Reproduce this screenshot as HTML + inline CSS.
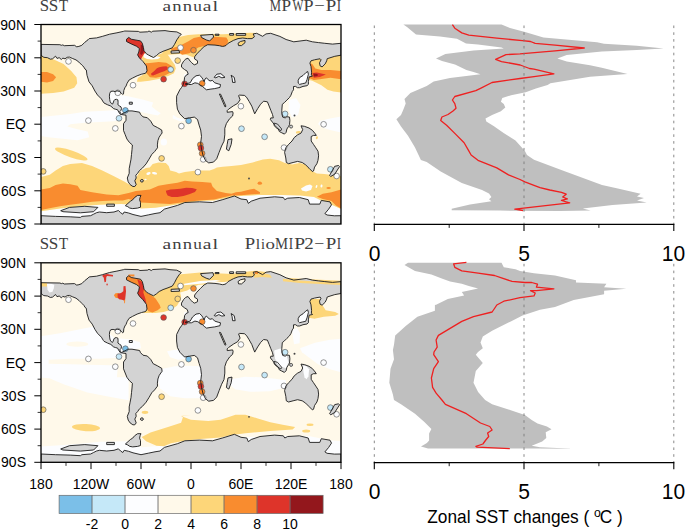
<!DOCTYPE html>
<html><head><meta charset="utf-8"><style>
html,body{margin:0;padding:0;background:#fff;}
svg{display:block;}
.lab{font-family:"Liberation Sans",sans-serif;font-size:14px;fill:#000;}
.big{font-family:"Liberation Sans",sans-serif;font-size:21px;fill:#000;}
.ttl{font-family:"Liberation Serif",serif;font-size:16px;fill:#404040;}
.xl{font-family:"Liberation Sans",sans-serif;font-size:17.6px;fill:#000;}
</style></head><body>
<svg width="685" height="530" viewBox="0 0 685 530">
<defs>
<clipPath id="clip0"><rect x="41" y="24.5" width="300" height="199.5"/></clipPath>
<clipPath id="clip1"><rect x="41" y="262.8" width="300" height="199.5"/></clipPath>
</defs>
<rect width="685" height="530" fill="#fff"/>
<g clip-path="url(#clip0)">
<rect x="41" y="24.5" width="300" height="199.5" fill="#FFF9EA"/>
<polygon points="41,116.9 55.6,115.4 70.2,114 84.8,111.8 99.4,111.1 114,110.3 122.8,109.6 122.8,119.8 114,121.3 99.4,122 84.8,122.7 70.2,124.2 67.3,126.4 77.5,129.3 87.7,131.5 89.2,137.3 77.5,140.3 62.9,138.8 48.3,137.3 41,135.9" fill="#FCFDFF"/>
<polygon points="341,116.5 330,118.5 320,121 318,124 322,127.5 330,130 341,132.5" fill="#FCFDFF"/>
<polygon points="108,89 119,89 120,95.1 129.1,96.6 142.6,99.6 153.2,102.6 151.7,106.4 156.2,110.2 160.8,113.2 157.7,115.5 150.2,114 139.6,111.7 129.1,111.7 120,111.7 108,106" fill="#FCFDFF"/>
<polygon points="172.8,114.7 177.4,117.7 186.4,120 180.4,121.5 172.8,118.5" fill="#FCFDFF"/>
<ellipse cx="163.8" cy="141.9" rx="3.2" ry="3.5" transform="rotate(0 163.8 141.9)" fill="#FCFDFF"/>
<polygon points="289,100 296,98 300.5,105 298,115 292,117.5 288.5,110" fill="#FCFDFF"/>
<polygon points="41,211.3 60,208.6 80,206.2 99.4,204.7 121.3,204 128,204.5 141,208.4 155.6,207.7 170.2,205.5 184.8,203.3 199.4,201.1 214,200.4 228.6,197.4 241,196 260,195 280,195 300,195.5 314,197 320,200 330,204 341,209 341,224 41,224" fill="#FCFDFF"/>
<polygon points="49.3,61.3 53.1,59.8 59.1,60.6 60.6,62.8 56.1,64.3 51.6,63.6" fill="#FCFDFF"/>
<polygon points="184,74 200,73 224,72 236,73 236,84 222,91 200,91 185,86" fill="#FCFDFF"/>
<polygon points="297,70 309,70 309,85 297,85" fill="#FCFDFF"/>
<polygon points="41,55 47,56 50,58 56.1,60.5 63.6,64 71.2,71.1 76.5,77.2 77.2,83.2 74.2,87.7 63.6,91.5 53.1,93 41,93.8" fill="#FDD679"/>
<polygon points="309,58 315.3,60 327.4,57 341,54 341,92.5 333.4,91.5 327.4,89.7 321.4,85.2 312.3,80.7 309,80" fill="#FDD679"/>
<ellipse cx="71.3" cy="154" rx="17.2" ry="3.4" transform="rotate(19 71.3 154)" fill="#FDD679"/>
<polygon points="41,177 49.8,174.8 55.6,170.4 62.9,166.1 70.2,163.9 81.9,163.1 92.1,166.1 102.3,170.4 114,176.3 124.2,181.4 131.5,185.8 133,186 136,178 140,171 146,168 149.8,167.5 152.7,163.9 158.5,162.4 165.8,163.1 168.7,166.1 170.2,170.4 176,171.9 179,173.4 184.8,171.9 190.6,171.2 196.5,170.4 203.8,170.4 209.6,170.4 214,169 216.9,167.5 222.8,166.8 231.5,166.1 241,165 252.7,162.4 262.9,159.5 270.2,158.8 279,160.2 284.8,163.1 292.1,164.6 299.4,163.1 305.2,164.6 311.1,170.4 316.9,173.4 324.2,174.1 330,174.8 341,176.3 341,209 330,204 320,200 314,197 300,195.5 280,195 260,195 241,196 228.6,197.4 214,200.4 199.4,201.1 184.8,203.3 170.2,205.5 155.6,207.7 141,208.4 128,204.5 121.3,204 99.4,204.7 80,206.2 60,208.6 41,211.3" fill="#FDD679"/>
<polygon points="140,53 146,51.5 152,54.5 154.3,57.8 160,54 166,52 172,60.9 174.8,64.7 175.8,68.5 173.9,73.2 168.2,76.1 158.7,78.9 149.2,80.8 140.7,81.7 136.9,81.7 137.8,78 142.6,75.1 145.4,73.2 146.4,68.5 143,62" fill="#FDD679"/>
<polygon points="143.7,53.7 146.7,52.9 150.5,56.7 154.3,57.5 157,56.2 160.5,57.2 158,59 152,59.6 147,59 143.5,57.2" fill="#FCFDFF"/>
<polygon points="161.7,53.2 164.6,50.3 170,47 175,42 179.2,37.1 188,35 198.2,34.2 208.4,34.2 223,34.2 237.6,33.5 250,32.8 256,33 256,40 240,40 230,45 215,46 205,46 197,55 193.8,57.6 186.5,54.7 179.2,53.9 167.5,54.7" fill="#FDD679"/>
<ellipse cx="298.3" cy="132.3" rx="2.5" ry="1.2" transform="rotate(-10 298.3 132.3)" fill="#FDD679"/>
<ellipse cx="316.9" cy="137.7" rx="1" ry="1.6" transform="rotate(20 316.9 137.7)" fill="#FDD679"/>
<polygon points="41,71.9 47,71.9 53.1,74.2 56.1,77.2 53.1,81 47,82.5 41,81.7" fill="#F98C2F"/>
<polygon points="309,63 312.3,64.1 315.3,68.6 321.4,70.1 330.4,70.1 341,70.9 341,79.2 330.4,77.7 319.8,79.2 313.8,79.9 309,78" fill="#F98C2F"/>
<polygon points="143.7,63.5 150,63 158.7,62 166.3,62.8 171,65.6 173,68.5 171,72.3 164,76 156,77.7 150,77.3 146.4,73 145.4,67.5" fill="#F98C2F"/>
<polygon points="170.4,48.8 179.2,45.9 188,41.5 193.8,37.9 201.1,36.4 213.5,36.8 226.4,37.4 228.1,40.4 227.5,43.9 225,47 212.8,47 205.5,45.5 198.2,47.5 193.8,50.5 189.4,53.2 182.1,54.7 179.2,52.5 173.4,51.7" fill="#F98C2F"/>
<polygon points="238,43.3 240.4,41.5 245,40.4 245,42.7 241.5,45.6 238.6,45.6" fill="#FDD679"/>
<polygon points="41,189.4 49.8,188 55.6,185 62.9,183.6 70.2,184.3 77.5,185.8 80.4,190.1 92.1,192.3 106.7,194.5 118.4,195.3 128.6,193.1 135.9,190.9 141,190.5 149.8,189.4 158.5,185.8 167.3,184.3 177.5,182.8 184.8,180.7 192.1,181.4 202.3,182.1 211.1,182.8 212.5,186.5 216.9,190.9 225.7,193.1 231.5,193.8 235.9,192.3 241,191.8 249.8,189.4 254.1,188.7 260,192.3 260,193.8 249.8,194.5 241,195.3 231.5,195.5 222.8,197.5 214,199.5 199.4,200.5 184.8,202 170.2,204 160,203.5 150,203 141,202.5 128.6,199 122.8,200.4 114,200.4 102.3,201.1 92.1,201.8 81.9,203.3 70.2,204.7 60,206.2 48.3,208.4 41,209.9" fill="#F98C2F"/>
<polygon points="316.9,196.7 322.8,193.8 331.5,192.3 341,189.4 341,208.4 335.9,205.5 331.5,201.1 322.8,198.9" fill="#F98C2F"/>
<ellipse cx="259.8" cy="183.2" rx="2.2" ry="1.6" transform="rotate(0 259.8 183.2)" fill="#F98C2F"/>
<ellipse cx="148.5" cy="173.5" rx="2.2" ry="1.3" transform="rotate(-20 148.5 173.5)" fill="#FCFDFF"/>
<ellipse cx="154.5" cy="173.2" rx="2.6" ry="1.2" transform="rotate(10 154.5 173.2)" fill="#FCFDFF"/>
<ellipse cx="145.5" cy="179.5" rx="1.2" ry="0.8" transform="rotate(0 145.5 179.5)" fill="#FCFDFF"/>
<polygon points="301,188.5 306,185.5 310,184.5 312.5,186 311,190 306,191.5 302,190.5" fill="#FCFDFF"/>
<ellipse cx="316.5" cy="186.5" rx="0.8" ry="1.5" transform="rotate(20 316.5 186.5)" fill="#FCFDFF"/>
<ellipse cx="321.5" cy="186" rx="1" ry="1.6" transform="rotate(10 321.5 186)" fill="#FCFDFF"/>
<ellipse cx="328.6" cy="188" rx="2.2" ry="1" transform="rotate(0 328.6 188)" fill="#F98C2F"/>
<polygon points="312.3,73.1 316.8,72.4 325.9,74.6 319.8,76.9 313.8,77.7" fill="#DE342A"/>
<polygon points="151.1,73.4 154,71.2 156.9,68.2 159.1,67.2 162.7,66.4 166.4,66.2 167.8,67.5 167.1,69.7 164.2,71.2 160.5,72.6 156.9,74.1 153.2,75.5 151.4,75.2" fill="#DE342A"/>
<polygon points="125,36 141,36 146,45 146.5,51 144,54 141.5,58 140.5,61.5 139,60 138,56 135,50 125,42" fill="#DE342A"/>
<polygon points="137.5,54 140.5,54.5 141.5,58 140.5,61 139,59.5" fill="#DE342A"/>
<polygon points="165.8,190.8 170.5,189.6 174.6,189.3 180.4,188.7 186.3,187.8 192.1,188.1 196.8,189.3 195,191.9 189.2,194.3 183.4,196 177.5,196.9 171.7,196.9 167.6,195.4 166.4,193.1" fill="#DE342A"/>
<polygon points="313.5,73.6 317.6,73.9 317.6,76.1 313.8,76.4" fill="#93171C"/>
<polygon points="140.8,44.5 143,45.5 144.3,49 143.5,52.5 141.5,55 140.2,54 140.5,50" fill="#93171C"/>
<path d="M41 44.4 L59.9 44.7 L61.4 45.3 L62.8 44.9 L64.3 45.7 L74.5 45.3 L76.7 46.8 L78.9 46.4 L81.8 45.3 L84.7 42.4 L88 39.8 L89.2 38.6 L96.5 37.9 L102.3 36.4 L109.6 34.2 L116.9 32.8 L123.3 31.4 L124.8 31 L138.4 31.4 L139.9 32.2 L147.5 31.8 L149 31 L151.3 32.2 L152.8 31.2 L165 30.6 L170 31.4 L176.8 31.9 L181.3 34.2 L179.1 36.5 L176.8 39.9 L174.5 44.4 L172.3 47.8 L168 49.5 L163 51.3 L159.2 53.2 L156.5 55.5 L153.5 57.5 L151 56.3 L148.5 55 L146.4 53.8 L144.6 51.5 L144 50.9 L143.4 47.4 L142.3 43.3 L140.5 40.9 L131.2 39.2 L128.8 37.4 L126.5 39.2 L126.5 41.5 L131.2 43.9 L136.4 46.2 L139.4 48.5 L138.8 52 L137.6 54.9 L139.4 57.9 L142.9 61.4 L146.4 66 L147 70.7 L146.2 72.6 L145 73.4 L141.6 74.2 L137.1 75.8 L132.5 78.1 L129.1 80 L127.1 83.3 L126.1 86 L124.9 87.7 L123.8 90.5 L123.5 93.9 L122.7 94.5 L121 92.8 L119.3 91.4 L117 90.8 L115.3 91.7 L113.1 91.1 L110.8 91.4 L109.7 93.4 L109.4 96.2 L109.7 99.6 L110.2 101.8 L111.4 103.5 L112.5 104.1 L113.1 103 L113.9 100.7 L114.8 99.6 L116.5 99.3 L117.9 99.9 L118.1 102.4 L117.9 104.7 L119.3 105.8 L121 106.9 L121.5 108.6 L121 110.3 L119.8 111.5 L120.4 113.2 L121.5 114.1 L124 113 L126 112 L127.7 110.9 L132 110.9 L139.6 112.2 L140.5 114.3 L143 116.9 L147.3 117.7 L150.7 121.1 L153.2 125.4 L157.4 127.5 L161.7 130 L162.1 133 L160.8 134.7 L159.1 137.3 L157.9 140.7 L157.4 144.9 L157.5 147.8 L154.6 151.6 L151.8 154.4 L149 159.2 L146.1 163.9 L142.4 168.1 L139.5 170.5 L137.6 173.3 L135.8 175.2 L136.2 178 L134.8 180.8 L136.2 184.6 L134.8 186.5 L132.9 186.5 L130.1 184.6 L128.2 181.8 L127.3 178 L129.2 173.3 L129.2 168.6 L130.1 163.9 L131 159.2 L131.5 154.4 L132 149.7 L132.4 145 L129.4 142.4 L126.9 139 L125.2 134.7 L123.5 130.5 L123.5 123.7 L126 120.3 L126 115.2 L121.8 114.6 L120.4 114.5 L118.7 112 L117.6 109.8 L115.3 109.2 L113.6 108.6 L110.8 106.1 L107.4 104.7 L104 103 L103.4 102.2 L101.4 98.9 L97.5 95 L94.9 91 L92.2 85.8 L89 81.8 L87 75.3 L86.3 70 L85 69.1 L84 67.2 L81.8 65 L78.9 62.1 L76 59.9 L72.3 58.4 L69.4 57.1 L67.2 57.3 L65 58.8 L62.8 58.1 L61.4 59.5 L59.2 57.7 L57 58.4 L55.5 56.2 L52.6 58.8 L50.4 59.2 L47.5 57.7 L43.8 57.3 L41.3 55.5 L41 55.5ZM341 43.3 L332.5 44.1 L324.8 43.3 L318.6 42.6 L312.4 41.8 L306.2 40.2 L300 41 L293.8 41.8 L286.1 39.5 L279.9 36.4 L276 35.1 L270.7 33.3 L266 33.9 L262.6 36.3 L256.7 33.3 L253.2 33.9 L254.4 36.8 L252 38.6 L247.4 38.6 L242.7 38 L238 38.6 L233.4 40.4 L228.1 43.3 L226 45.5 L224 46.2 L222.3 46.4 L219.4 45.7 L215 45.1 L207.7 44.7 L204.1 46.6 L200.4 50.2 L196.8 53.9 L194.6 56.8 L194.6 59 L197.5 60.8 L197.5 63.4 L194.6 64.8 L193.1 64.1 L191.7 62.6 L190.2 61.2 L188 58.2 L185.8 59 L183.6 61.2 L181.5 64.8 L181.5 67.1 L184.6 69.6 L187.2 71.2 L188.2 74.2 L186.1 75.2 L184.6 77.3 L184.1 81.4 L183.4 84.5 L181.5 87.5 L179.8 89.8 L176.6 96.2 L176.6 102.7 L177.4 109.1 L179.8 113.9 L184.6 118.7 L189.4 117.9 L194.3 117.1 L197.5 119.5 L199.1 125.1 L200.7 130 L201.5 136.4 L200.7 142.8 L201.5 149.2 L203.1 155.6 L205.5 160.5 L208.7 162.9 L213.5 162.1 L216.7 158.8 L219.1 152.4 L221.6 146 L224 141.2 L224.8 134.8 L224.8 128.3 L226.4 123.5 L229.6 118.7 L232.6 116 L233.1 113.1 L232.6 111.6 L227.2 112.3 L227.2 110.6 L228.7 109.1 L233.6 105.7 L237.5 103.5 L240.1 99.8 L238.6 95.6 L239.6 95.1 L244.4 95.4 L246.5 97.2 L249.1 101.4 L251.8 106.2 L254.7 113.8 L257.7 108.6 L260.6 104.2 L263.6 101.2 L266 101.6 L267.4 101.8 L269.1 106 L270.8 110.3 L272.5 114.5 L273.3 117.9 L270.8 117.9 L270.4 119.6 L272.5 122.2 L275 125.6 L278.4 129 L279.3 131.5 L281.8 132.8 L284.4 134.1 L286.1 132.4 L286.9 129 L288.6 126.4 L289.5 124.7 L289.9 120.5 L289.5 117.1 L286.9 116.7 L285.2 117.9 L282.7 117.1 L281.8 113.7 L281.8 110.3 L282.3 104.3 L284.4 102.6 L286.9 100.1 L289.5 97.5 L290.9 95.3 L292.3 91.5 L293.5 89.8 L293.5 86.5 L295.5 86.4 L297.5 87.7 L299.6 87.7 L303 86.4 L307 85.7 L308.4 84.4 L308.4 81.6 L309.1 76.9 L312.5 76.2 L311.4 74.9 L311.6 72.2 L311 66.5 L309.9 63.1 L311 60.8 L314.5 59.8 L317 59.3 L320.1 58.8 L321.1 59.8 L319.5 62.8 L320.1 65.9 L322.1 66.9 L325.2 63.9 L326.7 60.8 L327.2 58.7 L330 57.8 L334.8 56.3 L341 55.2ZM185.5 83.6 L187.8 83.4 L190.2 82.8 L192.5 78.7 L196 75.8 L199.5 75.2 L201.9 77.5 L203 79.5 L204.2 81.6 L205 79 L206.5 77.8 L207.7 79.3 L210 81 L212.4 80.4 L214.7 82.8 L218.2 83.9 L220.5 84.5 L220 87.4 L214.7 88.6 L210 89.2 L206.5 89.8 L204.2 88 L202.4 86.3 L200.1 85.1 L197.8 83.4 L194.9 82.8 L191.4 84.5 L188.4 84.5 L185.5 84.4ZM214.2 77.3 L216.8 74.2 L220.9 73.7 L225 77.3 L221.9 77.8 L218.8 76.3 L215.8 77.8ZM231.1 75.2 L234.2 77.3 L235.2 82.4 L232.6 82.4 L232.1 78.3ZM307.7 71.5 L308.4 74.2 L307 79.6 L305.7 83 L302.3 83.7 L299.6 84.4 L298.2 83 L298.2 80.3 L299.6 77.6 L303 75.5 L305.7 72.8ZM238 43.3 L240.4 41.5 L245 40.4 L245 42.7 L241.5 45.6 L238.6 45.6ZM219.4 94 L220.6 94.2 L226 106.3 L225 106.9ZM171.1 51 L179.1 50.6 L179.6 52.9 L171.1 53.2ZM200.6 35.3 L213 34.4 L213.6 37 L209.6 41 L206.2 39.9 L201.7 37.6ZM236.2 33.5 L245.7 33.5 L245.7 35.3 L236.2 35.3ZM229.6 33.5 L233.6 33.5 L233.6 35.2 L229.6 35.2ZM215.2 34.2 L219 34.2 L219 35.3 L215.2 35.3ZM228 139.6 L232 138.8 L231.2 144.4 L228.8 150.8 L226.4 149.2 L227.2 144.4ZM301 125.8 L304.4 126.3 L309 128 L312.4 130.3 L315.2 133.7 L316.3 135.4 L313.5 135.4 L311.2 136.5 L311.2 141 L313.5 144.4 L315.8 147.8 L318 151.2 L318.6 155.8 L318 160.3 L316.9 163.7 L314.6 167.1 L313.5 171 L312.4 171.6 L309 168.2 L305.6 164.8 L302.2 162.5 L297.6 161.4 L293.1 162.5 L288.6 163.7 L286.3 162.5 L285.8 158 L284.6 152.4 L285.8 147.8 L288.6 144.4 L292 141 L294.2 137.6 L297.6 134.8 L301 133.1 L302.7 129.7ZM329.6 175.4 L334.7 166.3 L338.6 165.5 L339.6 166.5 L334.7 174.2 L330.7 176.5ZM129.3 102.2 L132.3 102.2 L132.3 104.2 L129.3 104.2ZM143.4 180.8 L143 181.7 L141.9 182.1 L140.8 181.7 L140.4 180.8 L140.8 179.9 L141.9 179.5 L143 179.9ZM41 215.7 L55.6 216.4 L70.2 216.8 L80.4 217.4 L81.9 216.4 L90.6 215.7 L93.6 214.2 L96.5 212.7 L99.4 212 L106.7 212.7 L114 212 L118.4 210.5 L120.6 212.7 L122.8 214.2 L124.2 212 L128.6 213 L133 214.5 L141 216.4 L148.3 214.9 L155 213.5 L160 212.7 L164.4 209.1 L170 207.5 L177.5 205.4 L184.8 202.5 L199.4 201.8 L212.5 202.5 L222.8 199.6 L234.4 196 L241 199 L246.8 199.7 L248.3 203.4 L251.2 201.2 L260 198.2 L274.6 196.8 L283.3 197.5 L284.8 199.7 L287.7 198.2 L299.4 197.5 L308.2 199.7 L309.6 204.1 L319.8 204.1 L321.3 200.4 L330 201.9 L331.5 204.8 L328.6 209.2 L324.9 213.6 L327.1 215 L334.4 215.8 L341 215.7 L341 224.5 L41 224.5ZM125.4 205.7 L130.3 201.3 L132.7 199.8 L134.7 197.4 L137.6 195.4 L141 195.4 L140.1 197.4 L139.6 199.8 L140.5 202.3 L140.5 207.2 L137.6 208.1 L132.7 208.6 L129.8 208.1 L127.8 206.7ZM60.7 210.7 L69.5 207.4 L84.8 206.3 L97.9 207.4 L93.6 211.7 L80.4 212.8 L62.9 211.7ZM106.7 204.1 L114.4 204.1 L114.4 206.3 L106.7 206.3Z" transform="translate(0 0)" fill="#D3D3D3" fill-rule="evenodd"/>
<polygon points="141.3,180.4 142.5,180.4 142.5,181.2 141.3,181.2" fill="#E6E6E6"/>
<polygon points="130,102.8 131.6,102.8 131.6,103.6 130,103.6" fill="#E6E6E6"/>
<polygon points="172,51.6 178.6,51.3 178.8,52.4 172,52.6" fill="#E6E6E6"/>
<circle cx="68.5" cy="61.4" r="2.85" fill="#FCFDFF" stroke="#5c5c5c" stroke-width="0.65"/>
<circle cx="133" cy="85.2" r="2.85" fill="#FCFDFF" stroke="#5c5c5c" stroke-width="0.65"/>
<circle cx="117.8" cy="92.8" r="2.85" fill="#FCFDFF" stroke="#5c5c5c" stroke-width="0.65"/>
<circle cx="125.4" cy="110.4" r="2.85" fill="#7BBFE8" stroke="#5c5c5c" stroke-width="0.65"/>
<circle cx="119" cy="118.3" r="2.85" fill="#C5E8F8" stroke="#5c5c5c" stroke-width="0.65"/>
<circle cx="88.4" cy="120.6" r="2.85" fill="#FCFDFF" stroke="#5c5c5c" stroke-width="0.65"/>
<circle cx="115.3" cy="128.4" r="2.85" fill="#FCFDFF" stroke="#5c5c5c" stroke-width="0.65"/>
<circle cx="180.5" cy="47.7" r="2.85" fill="#FCFDFF" stroke="#5c5c5c" stroke-width="0.65"/>
<circle cx="193.5" cy="50.2" r="2.85" fill="#F98C2F" stroke="#5c5c5c" stroke-width="0.65"/>
<circle cx="177.7" cy="60.6" r="2.85" fill="#FDD679" stroke="#5c5c5c" stroke-width="0.65"/>
<circle cx="170.7" cy="69.5" r="2.85" fill="#C5E8F8" stroke="#5c5c5c" stroke-width="0.65"/>
<circle cx="163.6" cy="79.2" r="2.85" fill="#DE342A" stroke="#5c5c5c" stroke-width="0.65"/>
<circle cx="184.6" cy="83.8" r="2.85" fill="#DE342A" stroke="#5c5c5c" stroke-width="0.65"/>
<circle cx="202.2" cy="83.4" r="2.85" fill="#F98C2F" stroke="#5c5c5c" stroke-width="0.65"/>
<circle cx="188.6" cy="120.8" r="2.85" fill="#7BBFE8" stroke="#5c5c5c" stroke-width="0.65"/>
<circle cx="181.4" cy="126.1" r="2.85" fill="#FCFDFF" stroke="#5c5c5c" stroke-width="0.65"/>
<circle cx="200.3" cy="144.8" r="2.85" fill="#F98C2F" stroke="#5c5c5c" stroke-width="0.65"/>
<circle cx="200.9" cy="148.1" r="2.85" fill="#DE342A" stroke="#5c5c5c" stroke-width="0.65"/>
<circle cx="202.1" cy="153.4" r="2.85" fill="#F98C2F" stroke="#5c5c5c" stroke-width="0.65"/>
<circle cx="203.2" cy="159.4" r="2.85" fill="#FCFDFF" stroke="#5c5c5c" stroke-width="0.65"/>
<circle cx="161.6" cy="158.4" r="2.85" fill="#FDD679" stroke="#5c5c5c" stroke-width="0.65"/>
<circle cx="197.9" cy="172.1" r="2.85" fill="#FCFDFF" stroke="#5c5c5c" stroke-width="0.65"/>
<circle cx="240.9" cy="106.2" r="2.85" fill="#FCFDFF" stroke="#5c5c5c" stroke-width="0.65"/>
<circle cx="241.5" cy="128.7" r="2.85" fill="#C5E8F8" stroke="#5c5c5c" stroke-width="0.65"/>
<circle cx="264.6" cy="136.8" r="2.85" fill="#C5E8F8" stroke="#5c5c5c" stroke-width="0.65"/>
<circle cx="285.1" cy="113.9" r="2.85" fill="#C5E8F8" stroke="#5c5c5c" stroke-width="0.65"/>
<circle cx="323.6" cy="124.3" r="2.85" fill="#FCFDFF" stroke="#5c5c5c" stroke-width="0.65"/>
<circle cx="284" cy="147.6" r="2.85" fill="#FCFDFF" stroke="#5c5c5c" stroke-width="0.65"/>
<circle cx="330.4" cy="169.3" r="2.85" fill="#C5E8F8" stroke="#5c5c5c" stroke-width="0.65"/>
<circle cx="336.6" cy="176" r="2.85" fill="#FCFDFF" stroke="#5c5c5c" stroke-width="0.65"/>
<circle cx="43.2" cy="171.4" r="2.85" fill="#FDD679" stroke="#5c5c5c" stroke-width="0.65"/>
<path d="M41 44.4 L59.9 44.7 L61.4 45.3 L62.8 44.9 L64.3 45.7 L74.5 45.3 L76.7 46.8 L78.9 46.4 L81.8 45.3 L84.7 42.4 L88 39.8 L89.2 38.6 L96.5 37.9 L102.3 36.4 L109.6 34.2 L116.9 32.8 L123.3 31.4 L124.8 31 L138.4 31.4 L139.9 32.2 L147.5 31.8 L149 31 L151.3 32.2 L152.8 31.2 L165 30.6 L170 31.4 L176.8 31.9 L181.3 34.2 L179.1 36.5 L176.8 39.9 L174.5 44.4 L172.3 47.8 L168 49.5 L163 51.3 L159.2 53.2 L156.5 55.5 L153.5 57.5 L151 56.3 L148.5 55 L146.4 53.8 L144.6 51.5 L144 50.9 L143.4 47.4 L142.3 43.3 L140.5 40.9 L131.2 39.2 L128.8 37.4 L126.5 39.2 L126.5 41.5 L131.2 43.9 L136.4 46.2 L139.4 48.5 L138.8 52 L137.6 54.9 L139.4 57.9 L142.9 61.4 L146.4 66 L147 70.7 L146.2 72.6 L145 73.4 L141.6 74.2 L137.1 75.8 L132.5 78.1 L129.1 80 L127.1 83.3 L126.1 86 L124.9 87.7 L123.8 90.5 L123.5 93.9 L122.7 94.5 L121 92.8 L119.3 91.4 L117 90.8 L115.3 91.7 L113.1 91.1 L110.8 91.4 L109.7 93.4 L109.4 96.2 L109.7 99.6 L110.2 101.8 L111.4 103.5 L112.5 104.1 L113.1 103 L113.9 100.7 L114.8 99.6 L116.5 99.3 L117.9 99.9 L118.1 102.4 L117.9 104.7 L119.3 105.8 L121 106.9 L121.5 108.6 L121 110.3 L119.8 111.5 L120.4 113.2 L121.5 114.1 L124 113 L126 112 L127.7 110.9 L132 110.9 L139.6 112.2 L140.5 114.3 L143 116.9 L147.3 117.7 L150.7 121.1 L153.2 125.4 L157.4 127.5 L161.7 130 L162.1 133 L160.8 134.7 L159.1 137.3 L157.9 140.7 L157.4 144.9 L157.5 147.8 L154.6 151.6 L151.8 154.4 L149 159.2 L146.1 163.9 L142.4 168.1 L139.5 170.5 L137.6 173.3 L135.8 175.2 L136.2 178 L134.8 180.8 L136.2 184.6 L134.8 186.5 L132.9 186.5 L130.1 184.6 L128.2 181.8 L127.3 178 L129.2 173.3 L129.2 168.6 L130.1 163.9 L131 159.2 L131.5 154.4 L132 149.7 L132.4 145 L129.4 142.4 L126.9 139 L125.2 134.7 L123.5 130.5 L123.5 123.7 L126 120.3 L126 115.2 L121.8 114.6 L120.4 114.5 L118.7 112 L117.6 109.8 L115.3 109.2 L113.6 108.6 L110.8 106.1 L107.4 104.7 L104 103 L103.4 102.2 L101.4 98.9 L97.5 95 L94.9 91 L92.2 85.8 L89 81.8 L87 75.3 L86.3 70 L85 69.1 L84 67.2 L81.8 65 L78.9 62.1 L76 59.9 L72.3 58.4 L69.4 57.1 L67.2 57.3 L65 58.8 L62.8 58.1 L61.4 59.5 L59.2 57.7 L57 58.4 L55.5 56.2 L52.6 58.8 L50.4 59.2 L47.5 57.7 L43.8 57.3 L41.3 55.5 L41 55.5ZM341 43.3 L332.5 44.1 L324.8 43.3 L318.6 42.6 L312.4 41.8 L306.2 40.2 L300 41 L293.8 41.8 L286.1 39.5 L279.9 36.4 L276 35.1 L270.7 33.3 L266 33.9 L262.6 36.3 L256.7 33.3 L253.2 33.9 L254.4 36.8 L252 38.6 L247.4 38.6 L242.7 38 L238 38.6 L233.4 40.4 L228.1 43.3 L226 45.5 L224 46.2 L222.3 46.4 L219.4 45.7 L215 45.1 L207.7 44.7 L204.1 46.6 L200.4 50.2 L196.8 53.9 L194.6 56.8 L194.6 59 L197.5 60.8 L197.5 63.4 L194.6 64.8 L193.1 64.1 L191.7 62.6 L190.2 61.2 L188 58.2 L185.8 59 L183.6 61.2 L181.5 64.8 L181.5 67.1 L184.6 69.6 L187.2 71.2 L188.2 74.2 L186.1 75.2 L184.6 77.3 L184.1 81.4 L183.4 84.5 L181.5 87.5 L179.8 89.8 L176.6 96.2 L176.6 102.7 L177.4 109.1 L179.8 113.9 L184.6 118.7 L189.4 117.9 L194.3 117.1 L197.5 119.5 L199.1 125.1 L200.7 130 L201.5 136.4 L200.7 142.8 L201.5 149.2 L203.1 155.6 L205.5 160.5 L208.7 162.9 L213.5 162.1 L216.7 158.8 L219.1 152.4 L221.6 146 L224 141.2 L224.8 134.8 L224.8 128.3 L226.4 123.5 L229.6 118.7 L232.6 116 L233.1 113.1 L232.6 111.6 L227.2 112.3 L227.2 110.6 L228.7 109.1 L233.6 105.7 L237.5 103.5 L240.1 99.8 L238.6 95.6 L239.6 95.1 L244.4 95.4 L246.5 97.2 L249.1 101.4 L251.8 106.2 L254.7 113.8 L257.7 108.6 L260.6 104.2 L263.6 101.2 L266 101.6 L267.4 101.8 L269.1 106 L270.8 110.3 L272.5 114.5 L273.3 117.9 L270.8 117.9 L270.4 119.6 L272.5 122.2 L275 125.6 L278.4 129 L279.3 131.5 L281.8 132.8 L284.4 134.1 L286.1 132.4 L286.9 129 L288.6 126.4 L289.5 124.7 L289.9 120.5 L289.5 117.1 L286.9 116.7 L285.2 117.9 L282.7 117.1 L281.8 113.7 L281.8 110.3 L282.3 104.3 L284.4 102.6 L286.9 100.1 L289.5 97.5 L290.9 95.3 L292.3 91.5 L293.5 89.8 L293.5 86.5 L295.5 86.4 L297.5 87.7 L299.6 87.7 L303 86.4 L307 85.7 L308.4 84.4 L308.4 81.6 L309.1 76.9 L312.5 76.2 L311.4 74.9 L311.6 72.2 L311 66.5 L309.9 63.1 L311 60.8 L314.5 59.8 L317 59.3 L320.1 58.8 L321.1 59.8 L319.5 62.8 L320.1 65.9 L322.1 66.9 L325.2 63.9 L326.7 60.8 L327.2 58.7 L330 57.8 L334.8 56.3 L341 55.2ZM185.5 83.6 L187.8 83.4 L190.2 82.8 L192.5 78.7 L196 75.8 L199.5 75.2 L201.9 77.5 L203 79.5 L204.2 81.6 L205 79 L206.5 77.8 L207.7 79.3 L210 81 L212.4 80.4 L214.7 82.8 L218.2 83.9 L220.5 84.5 L220 87.4 L214.7 88.6 L210 89.2 L206.5 89.8 L204.2 88 L202.4 86.3 L200.1 85.1 L197.8 83.4 L194.9 82.8 L191.4 84.5 L188.4 84.5 L185.5 84.4ZM214.2 77.3 L216.8 74.2 L220.9 73.7 L225 77.3 L221.9 77.8 L218.8 76.3 L215.8 77.8ZM231.1 75.2 L234.2 77.3 L235.2 82.4 L232.6 82.4 L232.1 78.3ZM307.7 71.5 L308.4 74.2 L307 79.6 L305.7 83 L302.3 83.7 L299.6 84.4 L298.2 83 L298.2 80.3 L299.6 77.6 L303 75.5 L305.7 72.8ZM238 43.3 L240.4 41.5 L245 40.4 L245 42.7 L241.5 45.6 L238.6 45.6ZM219.4 94 L220.6 94.2 L226 106.3 L225 106.9ZM171.1 51 L179.1 50.6 L179.6 52.9 L171.1 53.2ZM200.6 35.3 L213 34.4 L213.6 37 L209.6 41 L206.2 39.9 L201.7 37.6ZM236.2 33.5 L245.7 33.5 L245.7 35.3 L236.2 35.3ZM229.6 33.5 L233.6 33.5 L233.6 35.2 L229.6 35.2ZM215.2 34.2 L219 34.2 L219 35.3 L215.2 35.3ZM228 139.6 L232 138.8 L231.2 144.4 L228.8 150.8 L226.4 149.2 L227.2 144.4ZM301 125.8 L304.4 126.3 L309 128 L312.4 130.3 L315.2 133.7 L316.3 135.4 L313.5 135.4 L311.2 136.5 L311.2 141 L313.5 144.4 L315.8 147.8 L318 151.2 L318.6 155.8 L318 160.3 L316.9 163.7 L314.6 167.1 L313.5 171 L312.4 171.6 L309 168.2 L305.6 164.8 L302.2 162.5 L297.6 161.4 L293.1 162.5 L288.6 163.7 L286.3 162.5 L285.8 158 L284.6 152.4 L285.8 147.8 L288.6 144.4 L292 141 L294.2 137.6 L297.6 134.8 L301 133.1 L302.7 129.7ZM329.6 175.4 L334.7 166.3 L338.6 165.5 L339.6 166.5 L334.7 174.2 L330.7 176.5ZM129.3 102.2 L132.3 102.2 L132.3 104.2 L129.3 104.2ZM143.4 180.8 L143 181.7 L141.9 182.1 L140.8 181.7 L140.4 180.8 L140.8 179.9 L141.9 179.5 L143 179.9ZM41 215.7 L55.6 216.4 L70.2 216.8 L80.4 217.4 L81.9 216.4 L90.6 215.7 L93.6 214.2 L96.5 212.7 L99.4 212 L106.7 212.7 L114 212 L118.4 210.5 L120.6 212.7 L122.8 214.2 L124.2 212 L128.6 213 L133 214.5 L141 216.4 L148.3 214.9 L155 213.5 L160 212.7 L164.4 209.1 L170 207.5 L177.5 205.4 L184.8 202.5 L199.4 201.8 L212.5 202.5 L222.8 199.6 L234.4 196 L241 199 L246.8 199.7 L248.3 203.4 L251.2 201.2 L260 198.2 L274.6 196.8 L283.3 197.5 L284.8 199.7 L287.7 198.2 L299.4 197.5 L308.2 199.7 L309.6 204.1 L319.8 204.1 L321.3 200.4 L330 201.9 L331.5 204.8 L328.6 209.2 L324.9 213.6 L327.1 215 L334.4 215.8 L341 215.7 L341 224.5 L41 224.5ZM125.4 205.7 L130.3 201.3 L132.7 199.8 L134.7 197.4 L137.6 195.4 L141 195.4 L140.1 197.4 L139.6 199.8 L140.5 202.3 L140.5 207.2 L137.6 208.1 L132.7 208.6 L129.8 208.1 L127.8 206.7ZM60.7 210.7 L69.5 207.4 L84.8 206.3 L97.9 207.4 L93.6 211.7 L80.4 212.8 L62.9 211.7ZM106.7 204.1 L114.4 204.1 L114.4 206.3 L106.7 206.3Z" transform="translate(0 0)" fill="none" stroke="#1a1a1a" stroke-width="0.9" stroke-linejoin="round"/>
<polygon points="274.1,123.1 277.5,124 281.7,129 280.9,130.7 276.7,128.2 274.1,125.7" fill="none" stroke="#1a1a1a" stroke-width="0.8"/>
<circle cx="294.5" cy="115.5" r="1.0" fill="#444"/>
<circle cx="291.1" cy="126.6" r="1.5" fill="#D3D3D3" stroke="#222" stroke-width="0.7"/>
<circle cx="249" cy="178.5" r="0.9" fill="#444"/>
</g>
<rect x="41" y="24.5" width="300" height="199.5" fill="none" stroke="#000" stroke-width="1.3"/>
<line x1="34.3" y1="24.5" x2="41" y2="24.5" stroke="#000" stroke-width="1"/>
<text x="26.0" y="29.6" class="lab" text-anchor="end">90N</text>
<line x1="37.6" y1="41.1" x2="41" y2="41.1" stroke="#000" stroke-width="0.8"/>
<line x1="34.3" y1="57.8" x2="41" y2="57.8" stroke="#000" stroke-width="1"/>
<text x="26.0" y="62.9" class="lab" text-anchor="end">60N</text>
<line x1="37.6" y1="74.4" x2="41" y2="74.4" stroke="#000" stroke-width="0.8"/>
<line x1="34.3" y1="91" x2="41" y2="91" stroke="#000" stroke-width="1"/>
<text x="26.0" y="96.1" class="lab" text-anchor="end">30N</text>
<line x1="37.6" y1="107.6" x2="41" y2="107.6" stroke="#000" stroke-width="0.8"/>
<line x1="34.3" y1="124.2" x2="41" y2="124.2" stroke="#000" stroke-width="1"/>
<text x="26.0" y="129.3" class="lab" text-anchor="end">EQ</text>
<line x1="37.6" y1="140.9" x2="41" y2="140.9" stroke="#000" stroke-width="0.8"/>
<line x1="34.3" y1="157.5" x2="41" y2="157.5" stroke="#000" stroke-width="1"/>
<text x="26.0" y="162.6" class="lab" text-anchor="end">30S</text>
<line x1="37.6" y1="174.1" x2="41" y2="174.1" stroke="#000" stroke-width="0.8"/>
<line x1="34.3" y1="190.8" x2="41" y2="190.8" stroke="#000" stroke-width="1"/>
<text x="26.0" y="195.8" class="lab" text-anchor="end">60S</text>
<line x1="37.6" y1="207.4" x2="41" y2="207.4" stroke="#000" stroke-width="0.8"/>
<line x1="34.3" y1="224" x2="41" y2="224" stroke="#000" stroke-width="1"/>
<text x="26.0" y="229.1" class="lab" text-anchor="end">90S</text>
<text transform="translate(39.67 10.90) scale(1.053 1.000)" class="ttl">S</text>
<text transform="translate(48.76 10.90) scale(1.068 1.000)" class="ttl">S</text>
<text transform="translate(59.03 10.90) scale(0.933 1.000)" class="ttl">T</text>
<text transform="translate(162.51 10.90) scale(1.218 0.950)" class="ttl">a</text>
<text transform="translate(172.27 10.90) scale(1.164 0.950)" class="ttl">n</text>
<text transform="translate(182.67 10.90) scale(1.164 0.950)" class="ttl">n</text>
<text transform="translate(193.27 10.90) scale(1.078 0.950)" class="ttl">u</text>
<text transform="translate(202.71 10.90) scale(1.218 0.950)" class="ttl">a</text>
<text transform="translate(212.56 10.90) scale(1.280 0.950)" class="ttl">l</text>
<text transform="translate(269.74 10.90) scale(0.790 1.000)" class="ttl">M</text>
<text transform="translate(281.50 10.90) scale(1.077 1.000)" class="ttl">P</text>
<text transform="translate(292.57 10.90) scale(0.720 1.000)" class="ttl">W</text>
<text transform="translate(303.48 10.90) scale(1.129 1.000)" class="ttl">P</text>
<text transform="translate(314.17 10.90) scale(1.169 1.000)" class="ttl">&#8722;</text>
<text transform="translate(325.86 10.90) scale(1.180 1.000)" class="ttl">P</text>
<text transform="translate(336.83 10.90) scale(0.812 1.000)" class="ttl">I</text>
<g clip-path="url(#clip1)">
<rect x="41" y="262.8" width="300" height="199.5" fill="#FFF9EA"/>
<polygon points="41,336.3 60,333.3 80,329.3 95,326.3 105,330.3 115,338.3 122,344.3 124,350.3 122,357.3 118,364.3 116.5,381.9 101.4,380.4 86.3,380.4 71.2,380.4 56.1,378.9 41,377.4" fill="#FCFDFF"/>
<ellipse cx="77.3" cy="344.2" rx="11" ry="2.6" transform="rotate(0 77.3 344.2)" fill="#FFF9EA"/>
<polygon points="48.6,359.8 70,358.8 100,358.8 118,357.8 124,360.3 124,366.3 110,365.3 90,364.8 70,364.3 48.6,363.8" fill="#FFF9EA"/>
<polygon points="48,377.3 128.6,377.3 128.6,400.3 110.7,397 87.4,392.4 64.2,384.6 53.4,380" fill="#FCFDFF"/>
<polygon points="118,338.3 130,339.3 140,342.3 141,348.3 130,349.8 120,349.8" fill="#FCFDFF"/>
<polygon points="167,351.3 175,349.8 185,350.3 189,354.3 186,358.8 178,359.8 170,357.3" fill="#FCFDFF"/>
<polygon points="160,369.3 175,366.3 190,365.8 200,366.3 206,367.3 206,398.3 185,398.3 170,396.3 160,388.3 157,378.3" fill="#FCFDFF"/>
<polygon points="300,348.3 315,342.8 330,339.8 341,338.8 341,372.3 330,369.3 318,364.3 310,358.3 302,352.3" fill="#FCFDFF"/>
<polygon points="292,330.3 297,327.8 300,333.3 299.6,343.3 294,344.3" fill="#FCFDFF"/>
<polygon points="231,379.3 245,376.8 260,377.3 275,378.8 286,380.3 286,387.3 270,391.3 250,391.8 235,389.3 229,384.3" fill="#FCFDFF"/>
<polygon points="41,446.6 60,445.3 80,443.8 100,441.8 128,441.3 141,447.3 170,445.3 190,443.3 220,439.3 245,437.3 280,435.8 310,436.3 330,440.3 341,441.3 341,462.3 41,462.3" fill="#FCFDFF"/>
<polygon points="184,312.3 200,311.3 224,310.3 236,311.3 236,322.3 222,329.3 200,329.3 185,324.3" fill="#FCFDFF"/>
<polygon points="297,308.3 309,308.3 309,323.3 297,323.3" fill="#FCFDFF"/>
<polygon points="310.6,298.9 320.1,298.9 322,304.5 325.7,310.2 335.2,312.1 338.9,314 335.2,315.8 323.8,316.8 314.4,318.7 309,317.7 309,300.3" fill="#FDD679"/>
<polygon points="140.2,311.9 145.3,312.9 155.5,312.9 163.7,311.9 170.9,309.8 177,305.7 180.1,300.6 181.1,296.5 180.1,292.4 187.2,290.4 192,287.8 195.4,286.3 198.5,284.8 205,284.5 213,282.1 224.2,282.1 240.3,279.7 256.4,278.1 270,277.3 270,272.4 256.4,270.8 248.3,271.6 232.3,274 216.2,273.2 200.1,272.4 184.1,274 176.1,274.8 170,283.3 160,290.3 150,294.3 144,300.3" fill="#FDD679"/>
<polygon points="184.1,283.7 200.1,280.9 216.2,280 221,280.9 208.2,282.9 192.1,284.5 184.1,285.3" fill="#FCFDFF"/>
<polygon points="270,276.8 300,278.8 341,280.8 341,283.8 300,282.3 270,279.3" fill="#FDD679"/>
<ellipse cx="86" cy="427.6" rx="14" ry="3.6" transform="rotate(3 86 427.6)" fill="#FDD679"/>
<polygon points="141.7,436.9 150.5,432.5 168,427.1 181.1,422.7 183.3,416.1 191,415 180.9,416 190.9,419.7 208.2,420.9 220.6,419.7 235.5,414.7 245.4,414.7 257.8,418.5 270.3,422.2 282.7,424.7 295.1,427.1 292.6,429.6 270.3,430.9 245.4,433.3 230,435.3 220.6,437.6 200.3,439.1 185.7,440.6 171.1,443.3 163.8,446.3 156.5,445.8 146.1,441.3 141.9,437.3" fill="#FDD679"/>
<ellipse cx="145" cy="412.3" rx="3.3" ry="1.6" transform="rotate(0 145 412.3)" fill="#FDD679"/>
<ellipse cx="310" cy="424.7" rx="3.5" ry="1.2" transform="rotate(0 310 424.7)" fill="#FDD679"/>
<ellipse cx="306.2" cy="430.9" rx="4" ry="1.5" transform="rotate(0 306.2 430.9)" fill="#FDD679"/>
<polygon points="142.3,292.4 145.3,291.4 150.4,294.5 155.5,298.6 159.6,304.7 160.7,307.8 157.6,310.3 152.5,312.4 148.4,311.3 146.3,307.8 146.3,303.7 143.3,298.6" fill="#F98C2F"/>
<polygon points="125,274.3 141,274.3 144,282.3 146,293.3 146.5,305.3 144,306.3 141.5,300.3 138,296.3 135,288.3 125,280.3" fill="#F98C2F"/>
<polygon points="137.2,279.2 141.2,281.2 143.3,283.2 144.3,287.3 143.3,292.4 145.3,298.6 146.3,302.7 145.3,303.7 141.2,298.6 138.2,294.5 137.2,290.4 139.2,286.3 138.2,282.2" fill="#DE342A"/>
<ellipse cx="138.8" cy="308.7" rx="1.2" ry="1" transform="rotate(0 138.8 308.7)" fill="#FDD679"/>
<path d="M41 44.4 L59.9 44.7 L61.4 45.3 L62.8 44.9 L64.3 45.7 L74.5 45.3 L76.7 46.8 L78.9 46.4 L81.8 45.3 L84.7 42.4 L88 39.8 L89.2 38.6 L96.5 37.9 L102.3 36.4 L109.6 34.2 L116.9 32.8 L123.3 31.4 L124.8 31 L138.4 31.4 L139.9 32.2 L147.5 31.8 L149 31 L151.3 32.2 L152.8 31.2 L165 30.6 L170 31.4 L176.8 31.9 L181.3 34.2 L179.1 36.5 L176.8 39.9 L174.5 44.4 L172.3 47.8 L168 49.5 L163 51.3 L159.2 53.2 L156.5 55.5 L153.5 57.5 L151 56.3 L148.5 55 L146.4 53.8 L144.6 51.5 L144 50.9 L143.4 47.4 L142.3 43.3 L140.5 40.9 L131.2 39.2 L128.8 37.4 L126.5 39.2 L126.5 41.5 L131.2 43.9 L136.4 46.2 L139.4 48.5 L138.8 52 L137.6 54.9 L139.4 57.9 L142.9 61.4 L146.4 66 L147 70.7 L146.2 72.6 L145 73.4 L141.6 74.2 L137.1 75.8 L132.5 78.1 L129.1 80 L127.1 83.3 L126.1 86 L124.9 87.7 L123.8 90.5 L123.5 93.9 L122.7 94.5 L121 92.8 L119.3 91.4 L117 90.8 L115.3 91.7 L113.1 91.1 L110.8 91.4 L109.7 93.4 L109.4 96.2 L109.7 99.6 L110.2 101.8 L111.4 103.5 L112.5 104.1 L113.1 103 L113.9 100.7 L114.8 99.6 L116.5 99.3 L117.9 99.9 L118.1 102.4 L117.9 104.7 L119.3 105.8 L121 106.9 L121.5 108.6 L121 110.3 L119.8 111.5 L120.4 113.2 L121.5 114.1 L124 113 L126 112 L127.7 110.9 L132 110.9 L139.6 112.2 L140.5 114.3 L143 116.9 L147.3 117.7 L150.7 121.1 L153.2 125.4 L157.4 127.5 L161.7 130 L162.1 133 L160.8 134.7 L159.1 137.3 L157.9 140.7 L157.4 144.9 L157.5 147.8 L154.6 151.6 L151.8 154.4 L149 159.2 L146.1 163.9 L142.4 168.1 L139.5 170.5 L137.6 173.3 L135.8 175.2 L136.2 178 L134.8 180.8 L136.2 184.6 L134.8 186.5 L132.9 186.5 L130.1 184.6 L128.2 181.8 L127.3 178 L129.2 173.3 L129.2 168.6 L130.1 163.9 L131 159.2 L131.5 154.4 L132 149.7 L132.4 145 L129.4 142.4 L126.9 139 L125.2 134.7 L123.5 130.5 L123.5 123.7 L126 120.3 L126 115.2 L121.8 114.6 L120.4 114.5 L118.7 112 L117.6 109.8 L115.3 109.2 L113.6 108.6 L110.8 106.1 L107.4 104.7 L104 103 L103.4 102.2 L101.4 98.9 L97.5 95 L94.9 91 L92.2 85.8 L89 81.8 L87 75.3 L86.3 70 L85 69.1 L84 67.2 L81.8 65 L78.9 62.1 L76 59.9 L72.3 58.4 L69.4 57.1 L67.2 57.3 L65 58.8 L62.8 58.1 L61.4 59.5 L59.2 57.7 L57 58.4 L55.5 56.2 L52.6 58.8 L50.4 59.2 L47.5 57.7 L43.8 57.3 L41.3 55.5 L41 55.5ZM341 43.3 L332.5 44.1 L324.8 43.3 L318.6 42.6 L312.4 41.8 L306.2 40.2 L300 41 L293.8 41.8 L286.1 39.5 L279.9 36.4 L276 35.1 L270.7 33.3 L266 33.9 L262.6 36.3 L256.7 33.3 L253.2 33.9 L254.4 36.8 L252 38.6 L247.4 38.6 L242.7 38 L238 38.6 L233.4 40.4 L228.1 43.3 L226 45.5 L224 46.2 L222.3 46.4 L219.4 45.7 L215 45.1 L207.7 44.7 L204.1 46.6 L200.4 50.2 L196.8 53.9 L194.6 56.8 L194.6 59 L197.5 60.8 L197.5 63.4 L194.6 64.8 L193.1 64.1 L191.7 62.6 L190.2 61.2 L188 58.2 L185.8 59 L183.6 61.2 L181.5 64.8 L181.5 67.1 L184.6 69.6 L187.2 71.2 L188.2 74.2 L186.1 75.2 L184.6 77.3 L184.1 81.4 L183.4 84.5 L181.5 87.5 L179.8 89.8 L176.6 96.2 L176.6 102.7 L177.4 109.1 L179.8 113.9 L184.6 118.7 L189.4 117.9 L194.3 117.1 L197.5 119.5 L199.1 125.1 L200.7 130 L201.5 136.4 L200.7 142.8 L201.5 149.2 L203.1 155.6 L205.5 160.5 L208.7 162.9 L213.5 162.1 L216.7 158.8 L219.1 152.4 L221.6 146 L224 141.2 L224.8 134.8 L224.8 128.3 L226.4 123.5 L229.6 118.7 L232.6 116 L233.1 113.1 L232.6 111.6 L227.2 112.3 L227.2 110.6 L228.7 109.1 L233.6 105.7 L237.5 103.5 L240.1 99.8 L238.6 95.6 L239.6 95.1 L244.4 95.4 L246.5 97.2 L249.1 101.4 L251.8 106.2 L254.7 113.8 L257.7 108.6 L260.6 104.2 L263.6 101.2 L266 101.6 L267.4 101.8 L269.1 106 L270.8 110.3 L272.5 114.5 L273.3 117.9 L270.8 117.9 L270.4 119.6 L272.5 122.2 L275 125.6 L278.4 129 L279.3 131.5 L281.8 132.8 L284.4 134.1 L286.1 132.4 L286.9 129 L288.6 126.4 L289.5 124.7 L289.9 120.5 L289.5 117.1 L286.9 116.7 L285.2 117.9 L282.7 117.1 L281.8 113.7 L281.8 110.3 L282.3 104.3 L284.4 102.6 L286.9 100.1 L289.5 97.5 L290.9 95.3 L292.3 91.5 L293.5 89.8 L293.5 86.5 L295.5 86.4 L297.5 87.7 L299.6 87.7 L303 86.4 L307 85.7 L308.4 84.4 L308.4 81.6 L309.1 76.9 L312.5 76.2 L311.4 74.9 L311.6 72.2 L311 66.5 L309.9 63.1 L311 60.8 L314.5 59.8 L317 59.3 L320.1 58.8 L321.1 59.8 L319.5 62.8 L320.1 65.9 L322.1 66.9 L325.2 63.9 L326.7 60.8 L327.2 58.7 L330 57.8 L334.8 56.3 L341 55.2ZM185.5 83.6 L187.8 83.4 L190.2 82.8 L192.5 78.7 L196 75.8 L199.5 75.2 L201.9 77.5 L203 79.5 L204.2 81.6 L205 79 L206.5 77.8 L207.7 79.3 L210 81 L212.4 80.4 L214.7 82.8 L218.2 83.9 L220.5 84.5 L220 87.4 L214.7 88.6 L210 89.2 L206.5 89.8 L204.2 88 L202.4 86.3 L200.1 85.1 L197.8 83.4 L194.9 82.8 L191.4 84.5 L188.4 84.5 L185.5 84.4ZM214.2 77.3 L216.8 74.2 L220.9 73.7 L225 77.3 L221.9 77.8 L218.8 76.3 L215.8 77.8ZM231.1 75.2 L234.2 77.3 L235.2 82.4 L232.6 82.4 L232.1 78.3ZM307.7 71.5 L308.4 74.2 L307 79.6 L305.7 83 L302.3 83.7 L299.6 84.4 L298.2 83 L298.2 80.3 L299.6 77.6 L303 75.5 L305.7 72.8ZM238 43.3 L240.4 41.5 L245 40.4 L245 42.7 L241.5 45.6 L238.6 45.6ZM219.4 94 L220.6 94.2 L226 106.3 L225 106.9ZM171.1 51 L179.1 50.6 L179.6 52.9 L171.1 53.2ZM200.6 35.3 L213 34.4 L213.6 37 L209.6 41 L206.2 39.9 L201.7 37.6ZM236.2 33.5 L245.7 33.5 L245.7 35.3 L236.2 35.3ZM229.6 33.5 L233.6 33.5 L233.6 35.2 L229.6 35.2ZM215.2 34.2 L219 34.2 L219 35.3 L215.2 35.3ZM228 139.6 L232 138.8 L231.2 144.4 L228.8 150.8 L226.4 149.2 L227.2 144.4ZM301 125.8 L304.4 126.3 L309 128 L312.4 130.3 L315.2 133.7 L316.3 135.4 L313.5 135.4 L311.2 136.5 L311.2 141 L313.5 144.4 L315.8 147.8 L318 151.2 L318.6 155.8 L318 160.3 L316.9 163.7 L314.6 167.1 L313.5 171 L312.4 171.6 L309 168.2 L305.6 164.8 L302.2 162.5 L297.6 161.4 L293.1 162.5 L288.6 163.7 L286.3 162.5 L285.8 158 L284.6 152.4 L285.8 147.8 L288.6 144.4 L292 141 L294.2 137.6 L297.6 134.8 L301 133.1 L302.7 129.7ZM329.6 175.4 L334.7 166.3 L338.6 165.5 L339.6 166.5 L334.7 174.2 L330.7 176.5ZM129.3 102.2 L132.3 102.2 L132.3 104.2 L129.3 104.2ZM143.4 180.8 L143 181.7 L141.9 182.1 L140.8 181.7 L140.4 180.8 L140.8 179.9 L141.9 179.5 L143 179.9ZM41 215.7 L55.6 216.4 L70.2 216.8 L80.4 217.4 L81.9 216.4 L90.6 215.7 L93.6 214.2 L96.5 212.7 L99.4 212 L106.7 212.7 L114 212 L118.4 210.5 L120.6 212.7 L122.8 214.2 L124.2 212 L128.6 213 L133 214.5 L141 216.4 L148.3 214.9 L155 213.5 L160 212.7 L164.4 209.1 L170 207.5 L177.5 205.4 L184.8 202.5 L199.4 201.8 L212.5 202.5 L222.8 199.6 L234.4 196 L241 199 L246.8 199.7 L248.3 203.4 L251.2 201.2 L260 198.2 L274.6 196.8 L283.3 197.5 L284.8 199.7 L287.7 198.2 L299.4 197.5 L308.2 199.7 L309.6 204.1 L319.8 204.1 L321.3 200.4 L330 201.9 L331.5 204.8 L328.6 209.2 L324.9 213.6 L327.1 215 L334.4 215.8 L341 215.7 L341 224.5 L41 224.5ZM125.4 205.7 L130.3 201.3 L132.7 199.8 L134.7 197.4 L137.6 195.4 L141 195.4 L140.1 197.4 L139.6 199.8 L140.5 202.3 L140.5 207.2 L137.6 208.1 L132.7 208.6 L129.8 208.1 L127.8 206.7ZM60.7 210.7 L69.5 207.4 L84.8 206.3 L97.9 207.4 L93.6 211.7 L80.4 212.8 L62.9 211.7ZM106.7 204.1 L114.4 204.1 L114.4 206.3 L106.7 206.3Z" transform="translate(0 238.3)" fill="#D3D3D3" fill-rule="evenodd"/>
<polygon points="141.3,418.7 142.5,418.7 142.5,419.5 141.3,419.5" fill="#E6E6E6"/>
<polygon points="130,341.1 131.6,341.1 131.6,341.9 130,341.9" fill="#E6E6E6"/>
<polygon points="172,289.9 178.6,289.6 178.8,290.7 172,290.9" fill="#E6E6E6"/>
<polygon points="254,273.8 262,272.8 270,274.8 272,277.8 262,277.1 254,277.8" fill="#FDD679"/>
<polygon points="283,278.8 300,280.6 320,281.8 341,282.6 341,285.1 320,284.1 300,282.9 283,281.3" fill="#FDD679"/>
<polygon points="274.1,350.6 280.3,348.5 286.5,354.7 288.5,362.3 286,368.3 280,366.3 278.2,365 275.1,358.8" fill="#FCFDFF"/>
<polygon points="302.9,366.3 306,365.8 309.1,369.3 308.5,376.3 306.5,379.3 304.5,377.3 303.5,372.3" fill="#FCFDFF"/>
<polygon points="41,282.7 47,282.9 47,286.5 41,286.5" fill="#FDD679"/>
<polygon points="47,284.1 51,283.7 54.3,284.8 53.8,288.3 52.5,291.8 49.5,292.5 47.5,289.8" fill="#FCFDFF"/>
<polygon points="113.9,295.3 115.5,293.3 118.4,292.9 119.5,294.3 118.4,298.2 115.5,297.8" fill="#F98C2F"/>
<polygon points="117.6,293.8 121,292.9 123.3,291.3 123.5,286.3 125.5,286.1 126,291.3 125.5,296.3 125.2,299.3 124.5,300.8 122,299.8 119,299.3 117.6,297.3" fill="#DE342A"/>
<polygon points="124,299.8 125.2,299.8 125,303.3 124.2,303.3" fill="#F98C2F"/>
<polygon points="102.5,274.9 107,274.1 113,275.1 113,276.5 107,276.1 106.3,277.3 106,281.8 104.5,282.3 103.8,277.8 102.5,276.3" fill="#DE342A"/>
<ellipse cx="107.1" cy="284.5" rx="0.7" ry="1" transform="rotate(0 107.1 284.5)" fill="#DE342A"/>
<polygon points="128.6,274.4 134.4,274.4 134.4,276.6 128.6,276.6" fill="#F98C2F"/>
<polygon points="254.7,271.6 258,271.6 258,274 254.7,274" fill="#F98C2F"/>
<circle cx="68.5" cy="299.7" r="2.85" fill="#FCFDFF" stroke="#5c5c5c" stroke-width="0.65"/>
<circle cx="133" cy="323.5" r="2.85" fill="#FCFDFF" stroke="#5c5c5c" stroke-width="0.65"/>
<circle cx="117.8" cy="331.1" r="2.85" fill="#FCFDFF" stroke="#5c5c5c" stroke-width="0.65"/>
<circle cx="125.4" cy="348.7" r="2.85" fill="#7BBFE8" stroke="#5c5c5c" stroke-width="0.65"/>
<circle cx="119" cy="356.6" r="2.85" fill="#C5E8F8" stroke="#5c5c5c" stroke-width="0.65"/>
<circle cx="88.4" cy="358.9" r="2.85" fill="#FCFDFF" stroke="#5c5c5c" stroke-width="0.65"/>
<circle cx="115.3" cy="366.7" r="2.85" fill="#FCFDFF" stroke="#5c5c5c" stroke-width="0.65"/>
<circle cx="180.5" cy="286" r="2.85" fill="#FCFDFF" stroke="#5c5c5c" stroke-width="0.65"/>
<circle cx="193.5" cy="288.5" r="2.85" fill="#F98C2F" stroke="#5c5c5c" stroke-width="0.65"/>
<circle cx="177.7" cy="298.9" r="2.85" fill="#FDD679" stroke="#5c5c5c" stroke-width="0.65"/>
<circle cx="170.7" cy="307.8" r="2.85" fill="#C5E8F8" stroke="#5c5c5c" stroke-width="0.65"/>
<circle cx="163.6" cy="317.5" r="2.85" fill="#DE342A" stroke="#5c5c5c" stroke-width="0.65"/>
<circle cx="184.6" cy="322.1" r="2.85" fill="#DE342A" stroke="#5c5c5c" stroke-width="0.65"/>
<circle cx="202.2" cy="321.7" r="2.85" fill="#F98C2F" stroke="#5c5c5c" stroke-width="0.65"/>
<circle cx="188.6" cy="359.1" r="2.85" fill="#7BBFE8" stroke="#5c5c5c" stroke-width="0.65"/>
<circle cx="181.4" cy="364.4" r="2.85" fill="#FCFDFF" stroke="#5c5c5c" stroke-width="0.65"/>
<circle cx="200.3" cy="383.1" r="2.85" fill="#F98C2F" stroke="#5c5c5c" stroke-width="0.65"/>
<circle cx="200.9" cy="386.4" r="2.85" fill="#DE342A" stroke="#5c5c5c" stroke-width="0.65"/>
<circle cx="202.1" cy="391.7" r="2.85" fill="#F98C2F" stroke="#5c5c5c" stroke-width="0.65"/>
<circle cx="203.2" cy="397.7" r="2.85" fill="#FCFDFF" stroke="#5c5c5c" stroke-width="0.65"/>
<circle cx="161.6" cy="396.7" r="2.85" fill="#FDD679" stroke="#5c5c5c" stroke-width="0.65"/>
<circle cx="197.9" cy="410.4" r="2.85" fill="#FCFDFF" stroke="#5c5c5c" stroke-width="0.65"/>
<circle cx="240.9" cy="344.5" r="2.85" fill="#FCFDFF" stroke="#5c5c5c" stroke-width="0.65"/>
<circle cx="241.5" cy="367" r="2.85" fill="#C5E8F8" stroke="#5c5c5c" stroke-width="0.65"/>
<circle cx="264.6" cy="375.1" r="2.85" fill="#C5E8F8" stroke="#5c5c5c" stroke-width="0.65"/>
<circle cx="285.1" cy="352.2" r="2.85" fill="#C5E8F8" stroke="#5c5c5c" stroke-width="0.65"/>
<circle cx="323.6" cy="362.6" r="2.85" fill="#FCFDFF" stroke="#5c5c5c" stroke-width="0.65"/>
<circle cx="284" cy="385.9" r="2.85" fill="#FCFDFF" stroke="#5c5c5c" stroke-width="0.65"/>
<circle cx="330.4" cy="407.6" r="2.85" fill="#C5E8F8" stroke="#5c5c5c" stroke-width="0.65"/>
<circle cx="336.6" cy="414.3" r="2.85" fill="#FCFDFF" stroke="#5c5c5c" stroke-width="0.65"/>
<circle cx="43.2" cy="409.7" r="2.85" fill="#FDD679" stroke="#5c5c5c" stroke-width="0.65"/>
<path d="M41 44.4 L59.9 44.7 L61.4 45.3 L62.8 44.9 L64.3 45.7 L74.5 45.3 L76.7 46.8 L78.9 46.4 L81.8 45.3 L84.7 42.4 L88 39.8 L89.2 38.6 L96.5 37.9 L102.3 36.4 L109.6 34.2 L116.9 32.8 L123.3 31.4 L124.8 31 L138.4 31.4 L139.9 32.2 L147.5 31.8 L149 31 L151.3 32.2 L152.8 31.2 L165 30.6 L170 31.4 L176.8 31.9 L181.3 34.2 L179.1 36.5 L176.8 39.9 L174.5 44.4 L172.3 47.8 L168 49.5 L163 51.3 L159.2 53.2 L156.5 55.5 L153.5 57.5 L151 56.3 L148.5 55 L146.4 53.8 L144.6 51.5 L144 50.9 L143.4 47.4 L142.3 43.3 L140.5 40.9 L131.2 39.2 L128.8 37.4 L126.5 39.2 L126.5 41.5 L131.2 43.9 L136.4 46.2 L139.4 48.5 L138.8 52 L137.6 54.9 L139.4 57.9 L142.9 61.4 L146.4 66 L147 70.7 L146.2 72.6 L145 73.4 L141.6 74.2 L137.1 75.8 L132.5 78.1 L129.1 80 L127.1 83.3 L126.1 86 L124.9 87.7 L123.8 90.5 L123.5 93.9 L122.7 94.5 L121 92.8 L119.3 91.4 L117 90.8 L115.3 91.7 L113.1 91.1 L110.8 91.4 L109.7 93.4 L109.4 96.2 L109.7 99.6 L110.2 101.8 L111.4 103.5 L112.5 104.1 L113.1 103 L113.9 100.7 L114.8 99.6 L116.5 99.3 L117.9 99.9 L118.1 102.4 L117.9 104.7 L119.3 105.8 L121 106.9 L121.5 108.6 L121 110.3 L119.8 111.5 L120.4 113.2 L121.5 114.1 L124 113 L126 112 L127.7 110.9 L132 110.9 L139.6 112.2 L140.5 114.3 L143 116.9 L147.3 117.7 L150.7 121.1 L153.2 125.4 L157.4 127.5 L161.7 130 L162.1 133 L160.8 134.7 L159.1 137.3 L157.9 140.7 L157.4 144.9 L157.5 147.8 L154.6 151.6 L151.8 154.4 L149 159.2 L146.1 163.9 L142.4 168.1 L139.5 170.5 L137.6 173.3 L135.8 175.2 L136.2 178 L134.8 180.8 L136.2 184.6 L134.8 186.5 L132.9 186.5 L130.1 184.6 L128.2 181.8 L127.3 178 L129.2 173.3 L129.2 168.6 L130.1 163.9 L131 159.2 L131.5 154.4 L132 149.7 L132.4 145 L129.4 142.4 L126.9 139 L125.2 134.7 L123.5 130.5 L123.5 123.7 L126 120.3 L126 115.2 L121.8 114.6 L120.4 114.5 L118.7 112 L117.6 109.8 L115.3 109.2 L113.6 108.6 L110.8 106.1 L107.4 104.7 L104 103 L103.4 102.2 L101.4 98.9 L97.5 95 L94.9 91 L92.2 85.8 L89 81.8 L87 75.3 L86.3 70 L85 69.1 L84 67.2 L81.8 65 L78.9 62.1 L76 59.9 L72.3 58.4 L69.4 57.1 L67.2 57.3 L65 58.8 L62.8 58.1 L61.4 59.5 L59.2 57.7 L57 58.4 L55.5 56.2 L52.6 58.8 L50.4 59.2 L47.5 57.7 L43.8 57.3 L41.3 55.5 L41 55.5ZM341 43.3 L332.5 44.1 L324.8 43.3 L318.6 42.6 L312.4 41.8 L306.2 40.2 L300 41 L293.8 41.8 L286.1 39.5 L279.9 36.4 L276 35.1 L270.7 33.3 L266 33.9 L262.6 36.3 L256.7 33.3 L253.2 33.9 L254.4 36.8 L252 38.6 L247.4 38.6 L242.7 38 L238 38.6 L233.4 40.4 L228.1 43.3 L226 45.5 L224 46.2 L222.3 46.4 L219.4 45.7 L215 45.1 L207.7 44.7 L204.1 46.6 L200.4 50.2 L196.8 53.9 L194.6 56.8 L194.6 59 L197.5 60.8 L197.5 63.4 L194.6 64.8 L193.1 64.1 L191.7 62.6 L190.2 61.2 L188 58.2 L185.8 59 L183.6 61.2 L181.5 64.8 L181.5 67.1 L184.6 69.6 L187.2 71.2 L188.2 74.2 L186.1 75.2 L184.6 77.3 L184.1 81.4 L183.4 84.5 L181.5 87.5 L179.8 89.8 L176.6 96.2 L176.6 102.7 L177.4 109.1 L179.8 113.9 L184.6 118.7 L189.4 117.9 L194.3 117.1 L197.5 119.5 L199.1 125.1 L200.7 130 L201.5 136.4 L200.7 142.8 L201.5 149.2 L203.1 155.6 L205.5 160.5 L208.7 162.9 L213.5 162.1 L216.7 158.8 L219.1 152.4 L221.6 146 L224 141.2 L224.8 134.8 L224.8 128.3 L226.4 123.5 L229.6 118.7 L232.6 116 L233.1 113.1 L232.6 111.6 L227.2 112.3 L227.2 110.6 L228.7 109.1 L233.6 105.7 L237.5 103.5 L240.1 99.8 L238.6 95.6 L239.6 95.1 L244.4 95.4 L246.5 97.2 L249.1 101.4 L251.8 106.2 L254.7 113.8 L257.7 108.6 L260.6 104.2 L263.6 101.2 L266 101.6 L267.4 101.8 L269.1 106 L270.8 110.3 L272.5 114.5 L273.3 117.9 L270.8 117.9 L270.4 119.6 L272.5 122.2 L275 125.6 L278.4 129 L279.3 131.5 L281.8 132.8 L284.4 134.1 L286.1 132.4 L286.9 129 L288.6 126.4 L289.5 124.7 L289.9 120.5 L289.5 117.1 L286.9 116.7 L285.2 117.9 L282.7 117.1 L281.8 113.7 L281.8 110.3 L282.3 104.3 L284.4 102.6 L286.9 100.1 L289.5 97.5 L290.9 95.3 L292.3 91.5 L293.5 89.8 L293.5 86.5 L295.5 86.4 L297.5 87.7 L299.6 87.7 L303 86.4 L307 85.7 L308.4 84.4 L308.4 81.6 L309.1 76.9 L312.5 76.2 L311.4 74.9 L311.6 72.2 L311 66.5 L309.9 63.1 L311 60.8 L314.5 59.8 L317 59.3 L320.1 58.8 L321.1 59.8 L319.5 62.8 L320.1 65.9 L322.1 66.9 L325.2 63.9 L326.7 60.8 L327.2 58.7 L330 57.8 L334.8 56.3 L341 55.2ZM185.5 83.6 L187.8 83.4 L190.2 82.8 L192.5 78.7 L196 75.8 L199.5 75.2 L201.9 77.5 L203 79.5 L204.2 81.6 L205 79 L206.5 77.8 L207.7 79.3 L210 81 L212.4 80.4 L214.7 82.8 L218.2 83.9 L220.5 84.5 L220 87.4 L214.7 88.6 L210 89.2 L206.5 89.8 L204.2 88 L202.4 86.3 L200.1 85.1 L197.8 83.4 L194.9 82.8 L191.4 84.5 L188.4 84.5 L185.5 84.4ZM214.2 77.3 L216.8 74.2 L220.9 73.7 L225 77.3 L221.9 77.8 L218.8 76.3 L215.8 77.8ZM231.1 75.2 L234.2 77.3 L235.2 82.4 L232.6 82.4 L232.1 78.3ZM307.7 71.5 L308.4 74.2 L307 79.6 L305.7 83 L302.3 83.7 L299.6 84.4 L298.2 83 L298.2 80.3 L299.6 77.6 L303 75.5 L305.7 72.8ZM238 43.3 L240.4 41.5 L245 40.4 L245 42.7 L241.5 45.6 L238.6 45.6ZM219.4 94 L220.6 94.2 L226 106.3 L225 106.9ZM171.1 51 L179.1 50.6 L179.6 52.9 L171.1 53.2ZM200.6 35.3 L213 34.4 L213.6 37 L209.6 41 L206.2 39.9 L201.7 37.6ZM236.2 33.5 L245.7 33.5 L245.7 35.3 L236.2 35.3ZM229.6 33.5 L233.6 33.5 L233.6 35.2 L229.6 35.2ZM215.2 34.2 L219 34.2 L219 35.3 L215.2 35.3ZM228 139.6 L232 138.8 L231.2 144.4 L228.8 150.8 L226.4 149.2 L227.2 144.4ZM301 125.8 L304.4 126.3 L309 128 L312.4 130.3 L315.2 133.7 L316.3 135.4 L313.5 135.4 L311.2 136.5 L311.2 141 L313.5 144.4 L315.8 147.8 L318 151.2 L318.6 155.8 L318 160.3 L316.9 163.7 L314.6 167.1 L313.5 171 L312.4 171.6 L309 168.2 L305.6 164.8 L302.2 162.5 L297.6 161.4 L293.1 162.5 L288.6 163.7 L286.3 162.5 L285.8 158 L284.6 152.4 L285.8 147.8 L288.6 144.4 L292 141 L294.2 137.6 L297.6 134.8 L301 133.1 L302.7 129.7ZM329.6 175.4 L334.7 166.3 L338.6 165.5 L339.6 166.5 L334.7 174.2 L330.7 176.5ZM129.3 102.2 L132.3 102.2 L132.3 104.2 L129.3 104.2ZM143.4 180.8 L143 181.7 L141.9 182.1 L140.8 181.7 L140.4 180.8 L140.8 179.9 L141.9 179.5 L143 179.9ZM41 215.7 L55.6 216.4 L70.2 216.8 L80.4 217.4 L81.9 216.4 L90.6 215.7 L93.6 214.2 L96.5 212.7 L99.4 212 L106.7 212.7 L114 212 L118.4 210.5 L120.6 212.7 L122.8 214.2 L124.2 212 L128.6 213 L133 214.5 L141 216.4 L148.3 214.9 L155 213.5 L160 212.7 L164.4 209.1 L170 207.5 L177.5 205.4 L184.8 202.5 L199.4 201.8 L212.5 202.5 L222.8 199.6 L234.4 196 L241 199 L246.8 199.7 L248.3 203.4 L251.2 201.2 L260 198.2 L274.6 196.8 L283.3 197.5 L284.8 199.7 L287.7 198.2 L299.4 197.5 L308.2 199.7 L309.6 204.1 L319.8 204.1 L321.3 200.4 L330 201.9 L331.5 204.8 L328.6 209.2 L324.9 213.6 L327.1 215 L334.4 215.8 L341 215.7 L341 224.5 L41 224.5ZM125.4 205.7 L130.3 201.3 L132.7 199.8 L134.7 197.4 L137.6 195.4 L141 195.4 L140.1 197.4 L139.6 199.8 L140.5 202.3 L140.5 207.2 L137.6 208.1 L132.7 208.6 L129.8 208.1 L127.8 206.7ZM60.7 210.7 L69.5 207.4 L84.8 206.3 L97.9 207.4 L93.6 211.7 L80.4 212.8 L62.9 211.7ZM106.7 204.1 L114.4 204.1 L114.4 206.3 L106.7 206.3Z" transform="translate(0 238.3)" fill="none" stroke="#1a1a1a" stroke-width="0.9" stroke-linejoin="round"/>
<polygon points="274.1,361.4 277.5,362.3 281.7,367.3 280.9,369 276.7,366.5 274.1,364" fill="none" stroke="#1a1a1a" stroke-width="0.8"/>
<circle cx="294.5" cy="353.8" r="1.0" fill="#444"/>
<circle cx="291.1" cy="364.9" r="1.5" fill="#D3D3D3" stroke="#222" stroke-width="0.7"/>
<circle cx="249" cy="416.8" r="0.9" fill="#444"/>
</g>
<rect x="41" y="262.8" width="300" height="199.5" fill="none" stroke="#000" stroke-width="1.3"/>
<line x1="34.3" y1="262.8" x2="41" y2="262.8" stroke="#000" stroke-width="1"/>
<text x="26.0" y="267.9" class="lab" text-anchor="end">90N</text>
<line x1="37.6" y1="279.4" x2="41" y2="279.4" stroke="#000" stroke-width="0.8"/>
<line x1="34.3" y1="296.1" x2="41" y2="296.1" stroke="#000" stroke-width="1"/>
<text x="26.0" y="301.2" class="lab" text-anchor="end">60N</text>
<line x1="37.6" y1="312.7" x2="41" y2="312.7" stroke="#000" stroke-width="0.8"/>
<line x1="34.3" y1="329.3" x2="41" y2="329.3" stroke="#000" stroke-width="1"/>
<text x="26.0" y="334.4" class="lab" text-anchor="end">30N</text>
<line x1="37.6" y1="345.9" x2="41" y2="345.9" stroke="#000" stroke-width="0.8"/>
<line x1="34.3" y1="362.6" x2="41" y2="362.6" stroke="#000" stroke-width="1"/>
<text x="26.0" y="367.7" class="lab" text-anchor="end">EQ</text>
<line x1="37.6" y1="379.2" x2="41" y2="379.2" stroke="#000" stroke-width="0.8"/>
<line x1="34.3" y1="395.8" x2="41" y2="395.8" stroke="#000" stroke-width="1"/>
<text x="26.0" y="400.9" class="lab" text-anchor="end">30S</text>
<line x1="37.6" y1="412.4" x2="41" y2="412.4" stroke="#000" stroke-width="0.8"/>
<line x1="34.3" y1="429.1" x2="41" y2="429.1" stroke="#000" stroke-width="1"/>
<text x="26.0" y="434.2" class="lab" text-anchor="end">60S</text>
<line x1="37.6" y1="445.7" x2="41" y2="445.7" stroke="#000" stroke-width="0.8"/>
<line x1="34.3" y1="462.3" x2="41" y2="462.3" stroke="#000" stroke-width="1"/>
<text x="26.0" y="467.4" class="lab" text-anchor="end">90S</text>
<text transform="translate(39.67 249.20) scale(1.053 1.000)" class="ttl">S</text>
<text transform="translate(48.76 249.20) scale(1.068 1.000)" class="ttl">S</text>
<text transform="translate(59.03 249.20) scale(0.933 1.000)" class="ttl">T</text>
<text transform="translate(162.51 249.20) scale(1.218 0.950)" class="ttl">a</text>
<text transform="translate(172.27 249.20) scale(1.164 0.950)" class="ttl">n</text>
<text transform="translate(182.67 249.20) scale(1.164 0.950)" class="ttl">n</text>
<text transform="translate(193.27 249.20) scale(1.078 0.950)" class="ttl">u</text>
<text transform="translate(202.71 249.20) scale(1.218 0.950)" class="ttl">a</text>
<text transform="translate(212.56 249.20) scale(1.280 0.950)" class="ttl">l</text>
<text transform="translate(244.86 249.20) scale(1.167 1.000)" class="ttl">P</text>
<text transform="translate(255.68 249.20) scale(0.999 0.950)" class="ttl">l</text>
<text transform="translate(261.10 249.20) scale(0.894 0.950)" class="ttl">i</text>
<text transform="translate(265.58 249.20) scale(1.180 0.950)" class="ttl">o</text>
<text transform="translate(274.98 249.20) scale(0.918 1.000)" class="ttl">M</text>
<text transform="translate(288.63 249.20) scale(0.812 1.000)" class="ttl">I</text>
<text transform="translate(294.34 249.20) scale(1.218 1.000)" class="ttl">P</text>
<text transform="translate(304.37 249.20) scale(1.185 1.000)" class="ttl">2</text>
<text transform="translate(314.21 249.20) scale(1.115 1.000)" class="ttl">&#8722;</text>
<text transform="translate(325.86 249.20) scale(1.180 1.000)" class="ttl">P</text>
<text transform="translate(336.83 249.20) scale(0.812 1.000)" class="ttl">I</text>
<line x1="41" y1="462.3" x2="41" y2="469.1" stroke="#000" stroke-width="1"/>
<text x="41" y="488.8" class="lab" text-anchor="middle">180</text>
<line x1="66" y1="462.3" x2="66" y2="465.9" stroke="#000" stroke-width="0.8"/>
<line x1="91" y1="462.3" x2="91" y2="469.1" stroke="#000" stroke-width="1"/>
<text x="91" y="488.8" class="lab" text-anchor="middle">120W</text>
<line x1="116" y1="462.3" x2="116" y2="465.9" stroke="#000" stroke-width="0.8"/>
<line x1="141" y1="462.3" x2="141" y2="469.1" stroke="#000" stroke-width="1"/>
<text x="141" y="488.8" class="lab" text-anchor="middle">60W</text>
<line x1="166" y1="462.3" x2="166" y2="465.9" stroke="#000" stroke-width="0.8"/>
<line x1="191" y1="462.3" x2="191" y2="469.1" stroke="#000" stroke-width="1"/>
<text x="191" y="488.8" class="lab" text-anchor="middle">0</text>
<line x1="216" y1="462.3" x2="216" y2="465.9" stroke="#000" stroke-width="0.8"/>
<line x1="241" y1="462.3" x2="241" y2="469.1" stroke="#000" stroke-width="1"/>
<text x="241" y="488.8" class="lab" text-anchor="middle">60E</text>
<line x1="266" y1="462.3" x2="266" y2="465.9" stroke="#000" stroke-width="0.8"/>
<line x1="291" y1="462.3" x2="291" y2="469.1" stroke="#000" stroke-width="1"/>
<text x="291" y="488.8" class="lab" text-anchor="middle">120E</text>
<line x1="316" y1="462.3" x2="316" y2="465.9" stroke="#000" stroke-width="0.8"/>
<line x1="341" y1="462.3" x2="341" y2="469.1" stroke="#000" stroke-width="1"/>
<text x="341" y="488.8" class="lab" text-anchor="middle">180</text>
<rect x="59.1" y="495.3" width="33" height="18.2" fill="#7BBFE8" stroke="#6a6a6a" stroke-width="0.7"/>
<rect x="92.1" y="495.3" width="33" height="18.2" fill="#C5E8F8" stroke="#6a6a6a" stroke-width="0.7"/>
<rect x="125.1" y="495.3" width="33" height="18.2" fill="#FCFDFF" stroke="#6a6a6a" stroke-width="0.7"/>
<rect x="158.1" y="495.3" width="33" height="18.2" fill="#FFF9EA" stroke="#6a6a6a" stroke-width="0.7"/>
<rect x="191.1" y="495.3" width="33" height="18.2" fill="#FDD679" stroke="#6a6a6a" stroke-width="0.7"/>
<rect x="224.1" y="495.3" width="33" height="18.2" fill="#F98C2F" stroke="#6a6a6a" stroke-width="0.7"/>
<rect x="257.1" y="495.3" width="33" height="18.2" fill="#DE342A" stroke="#6a6a6a" stroke-width="0.7"/>
<rect x="290.1" y="495.3" width="33" height="18.2" fill="#93171C" stroke="#6a6a6a" stroke-width="0.7"/>
<text x="92.1" y="528.5" class="lab" text-anchor="middle">-2</text>
<text x="125.1" y="528.5" class="lab" text-anchor="middle">0</text>
<text x="158.1" y="528.5" class="lab" text-anchor="middle">2</text>
<text x="191.1" y="528.5" class="lab" text-anchor="middle">4</text>
<text x="224.1" y="528.5" class="lab" text-anchor="middle">6</text>
<text x="257.1" y="528.5" class="lab" text-anchor="middle">8</text>
<text x="290.1" y="528.5" class="lab" text-anchor="middle">10</text>
<polygon points="403.4,24.5 407,27 412.7,31.7 416,34.5 440,36.5 457,38.7 466,43.4 478,44.5 501.5,47.6 503.8,48.5 473.5,50.4 445.4,53.9 436,58.5 442,61 455,64.5 466.4,70 473.5,72 480.5,74.3 450,77.9 433.7,81.4 426.7,86 410.4,93 404.5,98.9 405.7,103.6 403.4,109.4 401,115 396.4,119.3 401,126.4 408,135.7 415,147.4 420.9,160 426.7,162 440.7,171.4 461.8,183 482,190 489,193.5 491.4,197 489,199.3 491.4,201.2 470,204.5 451.7,208.7 451.7,210.2 500,210.6 560,210.9 590.6,210.4 582.8,208.6 612.5,205.1 646.7,202.5 637,200.4 644,198.1 637,196.4 640.6,193.8 617.8,188.5 602,185 562,170.2 534,159.7 527,155 524.9,150.9 515.5,140.4 504,133.3 493.6,125.9 486.3,121.5 485.5,118.6 492.1,114.9 500.9,111.3 505.3,107.6 503.8,104 500.9,101.8 502.3,98.1 511.1,95.2 525.7,92.3 535.9,88.6 547.6,85 550.4,83.2 590,76.7 627.5,73.9 611,70 601.8,67.8 590,65.3 566.7,61.6 557.4,58.5 566.7,55 601.8,51.5 636.8,49.9 663.7,48.5 636.8,45.7 604,43.8 597,42.2 543.4,37.5 525,32 510,28 501.5,24.5" fill="#BFBFBF"/>
<polyline points="452.4,24.7 454.8,28.2 461.8,32.9 468.8,35.2 496.8,38.2 522.5,40.6 530.5,41.5 535.2,43.4 555,45.2 584.3,48 555,50.8 520,53.9 506,54.6 495.6,59.3 501.5,61.6 520.2,65 529.5,68.5 534,69.2 553.9,73.9 534,76.7 520,78.5 492,82.5 480.5,88.4 475.8,90.7 454.8,96.5 452.4,100 454.8,103.6 456,108.2 453,111 448,114.5 441.9,117 440.7,120.5 446.6,125.2 454.8,133.4 464.1,142.7 468.8,150.9 471.1,155 478,160.3 496.8,167.9 508.5,174.9 520,179.5 524.9,181.9 534,185.4 540,187.7 549.8,190 561.5,192.3 566.2,194.2 562.7,197 567.3,198.9 561.5,200.5 569.7,202.9 514.8,209.2 523,210.5" fill="none" stroke="#EE2020" stroke-width="1.3" stroke-linejoin="round"/>
<line x1="374.3" y1="25.5" x2="374.3" y2="224.4" stroke="#7a7a7a" stroke-width="0.9" stroke-dasharray="2.6 4.2"/>
<line x1="524" y1="25.5" x2="524" y2="224.4" stroke="#7a7a7a" stroke-width="0.9" stroke-dasharray="2.6 4.2"/>
<line x1="673.8" y1="25.5" x2="673.8" y2="224.4" stroke="#7a7a7a" stroke-width="0.9" stroke-dasharray="2.6 4.2"/>
<line x1="373.7" y1="224.4" x2="674.4" y2="224.4" stroke="#000" stroke-width="1.3"/>
<line x1="374.3" y1="224.4" x2="374.3" y2="230.9" stroke="#000" stroke-width="1.1"/>
<line x1="524" y1="224.4" x2="524" y2="230.9" stroke="#000" stroke-width="1.1"/>
<line x1="673.8" y1="224.4" x2="673.8" y2="230.9" stroke="#000" stroke-width="1.1"/>
<line x1="449.2" y1="224.4" x2="449.2" y2="227.9" stroke="#000" stroke-width="0.9"/>
<line x1="598.9" y1="224.4" x2="598.9" y2="227.9" stroke="#000" stroke-width="0.9"/>
<text transform="translate(374.6 260.8) scale(1 1.05)" class="big" text-anchor="middle">0</text>
<text transform="translate(524.2 260.8) scale(1 1.05)" class="big" text-anchor="middle">5</text>
<text transform="translate(673.4 260.8) scale(1 1.05)" class="big" text-anchor="middle">10</text>
<polygon points="408,262.8 404.5,265 415,270.9 431.4,274.4 443.1,279 450.1,281.4 461.8,283.7 468.8,286 478.1,288.4 461.8,291.9 464.1,295.4 447.8,298.9 436.1,304.7 434.9,305 434.9,310.8 417.4,316.7 405.7,326 395.2,335.4 394,344.7 392.9,350 394,359.3 390.5,368.7 389.3,382.7 392.9,394.4 394,400 401,404.3 415,413.7 424.4,421.9 431.4,428.9 429.1,433.6 429.1,440.6 426.9,442.9 421,446.4 428,448.4 540,448.4 573.7,448.7 540,447.2 531.7,445.7 542.2,441.6 546.3,438.1 545.7,432.3 551.5,429.3 546.9,426.4 537.5,423.5 531.7,420 524.9,414.9 510.8,410.2 492.1,404.3 485.1,400 478.1,392.1 473.5,382.7 475.8,371 482.8,362.9 475.8,354.7 478,352 482.8,348.2 480.5,342.4 482.8,336.5 492.1,330.7 510.8,321.4 522.5,315.5 540,309.7 555,307 573.7,300 604.1,294.2 604.1,290.7 626.3,288.8 604.1,287.2 606.4,283.7 576,282.5 576,280.2 555,275.5 534,273.2 520,271 515.5,269.2 503.8,267.3 501.5,262.8" fill="#BFBFBF"/>
<polyline points="466.4,262.4 453.6,263.8 454.8,267.3 461.8,270.9 478.1,273.2 494.5,275.5 501.5,277.9 512,281.4 524.9,282.5 531.7,282.5 537.5,284.2 536.4,287.2 553.9,288.8 536.4,290.7 530.5,290.7 535.2,293 534,295.9 520,297.7 503.8,301.2 496.8,305 494.5,308.5 492.1,312 473.5,316.7 461.8,321.4 450.1,328.4 438.4,335.4 436.1,340 437.2,347.1 434,352 433.7,354.7 438.4,361.7 433.7,368.7 431.4,378 432.6,387.4 436.1,393.2 441.9,400 445.4,404.3 466.4,413.7 480.5,423 489.8,426.5 492.1,430 487.6,433 488.7,436.5 485.8,440 482.9,444 475.9,446.4 477.1,447.1 509.8,448.7" fill="none" stroke="#EE2020" stroke-width="1.3" stroke-linejoin="round"/>
<line x1="374.3" y1="263.8" x2="374.3" y2="462.7" stroke="#7a7a7a" stroke-width="0.9" stroke-dasharray="2.6 4.2"/>
<line x1="524" y1="263.8" x2="524" y2="462.7" stroke="#7a7a7a" stroke-width="0.9" stroke-dasharray="2.6 4.2"/>
<line x1="673.8" y1="263.8" x2="673.8" y2="462.7" stroke="#7a7a7a" stroke-width="0.9" stroke-dasharray="2.6 4.2"/>
<line x1="373.7" y1="462.7" x2="674.4" y2="462.7" stroke="#000" stroke-width="1.3"/>
<line x1="374.3" y1="462.7" x2="374.3" y2="469.2" stroke="#000" stroke-width="1.1"/>
<line x1="524" y1="462.7" x2="524" y2="469.2" stroke="#000" stroke-width="1.1"/>
<line x1="673.8" y1="462.7" x2="673.8" y2="469.2" stroke="#000" stroke-width="1.1"/>
<line x1="449.2" y1="462.7" x2="449.2" y2="466.2" stroke="#000" stroke-width="0.9"/>
<line x1="598.9" y1="462.7" x2="598.9" y2="466.2" stroke="#000" stroke-width="0.9"/>
<text transform="translate(374.6 499.1) scale(1 1.05)" class="big" text-anchor="middle">0</text>
<text transform="translate(524.2 499.1) scale(1 1.05)" class="big" text-anchor="middle">5</text>
<text transform="translate(673.4 499.1) scale(1 1.05)" class="big" text-anchor="middle">10</text>
<text transform="translate(427.3 522.8) scale(0.982 1)" class="xl">Zonal SST changes ( <tspan font-size="12.5px" dy="-6.3">o</tspan><tspan dy="6.3" dx="-1.2">C )</tspan></text>
</svg>
</body></html>
